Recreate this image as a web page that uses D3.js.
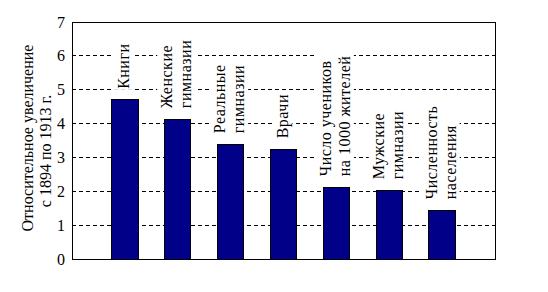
<!DOCTYPE html>
<html><head><meta charset="utf-8">
<script src="https://cdn.jsdelivr.net/npm/d3@7"></script>
<style>
html,body{margin:0;padding:0;background:#fff;}
</style></head>
<body><svg id="c" width="548" height="292"></svg>
<script>
const categories = [
  ["Книги"],
  ["Женские","гимназии"],
  ["Реальные","гимназии"],
  ["Врачи"],
  ["Число учеников","на 1000 жителей"],
  ["Мужские","гимназии"],
  ["Численность","населения"]
];
const values = [4.70, 4.13, 3.39, 3.24, 2.12, 2.03, 1.44];
const yTicks = [0,1,2,3,4,5,6,7];
const yTitle = ["Относительное увеличение","с 1894 по 1913 г."];

const FONT = "Liberation Serif";
const svg = d3.select("#c");
const L = 72, R = 495, T = 22, B = 259;
const x = d3.scaleBand().domain(d3.range(categories.length)).range([L, R])
  .paddingInner(0.5).paddingOuter(0.75);
const y = d3.scaleLinear().domain([0, 7]).range([B, T]);

svg.append("g").selectAll("line").data(yTicks.filter(t => t > 0 && t < 7)).join("line")
  .attr("x1", L).attr("x2", R).attr("y1", d => y(d)).attr("y2", d => y(d))
  .attr("stroke", "#000").attr("stroke-width", 1).attr("stroke-dasharray", "4,3")
  .attr("shape-rendering", "crispEdges");

svg.append("g").selectAll("rect").data(values).join("rect")
  .attr("x", (d, i) => x(i)).attr("width", x.bandwidth())
  .attr("y", d => y(d)).attr("height", d => y(0) - y(d))
  .attr("fill", "#000088").attr("stroke", "#000").attr("stroke-width", 1)
  .attr("shape-rendering", "crispEdges");

svg.append("rect").attr("x", L).attr("y", T).attr("width", R - L).attr("height", B - T)
  .attr("fill", "none").attr("stroke", "#000").attr("stroke-width", 1)
  .attr("shape-rendering", "crispEdges");

const yAxis = d3.axisLeft(y).tickValues(yTicks).tickSize(0).tickPadding(7).tickFormat(d3.format("d"));
const ga = svg.append("g").attr("transform", `translate(${L},0)`).call(yAxis);
ga.select(".domain").remove();
ga.selectAll("text").attr("font-size", 16).attr("font-family", FONT).attr("fill", "#000");

yTitle.forEach((t, i) => {
  svg.append("text")
    .attr("transform", `translate(${33 + i * 18},${[138, 151][i]}) rotate(-90)`)
    .attr("text-anchor", "middle").attr("font-size", 16).attr("font-family", FONT).attr("fill", "#000")
    .text(t);
});

const lineGap = 19, gap = 11;
categories.forEach((lines, i) => {
  const cx = x(i) + x.bandwidth() / 2;
  const by = y(values[i]) - gap;
  const g = svg.append("g");
  const n = lines.length;
  lines.forEach((t, j) => {
    const lx = cx + (j - (n - 1) / 2) * lineGap + 4;
    g.append("text")
      .attr("transform", `translate(${lx},${by}) rotate(-90)`)
      .attr("font-size", 16).attr("font-family", FONT).attr("letter-spacing", 0.5)
      .attr("fill", "#000").text(t);
  });
  const bb = g.node().getBBox();
  g.insert("rect", ":first-child")
    .attr("x", bb.x - 1).attr("y", bb.y - 1).attr("width", bb.width + 2).attr("height", bb.height + 2)
    .attr("fill", "#fff");
});
</script></body></html>
